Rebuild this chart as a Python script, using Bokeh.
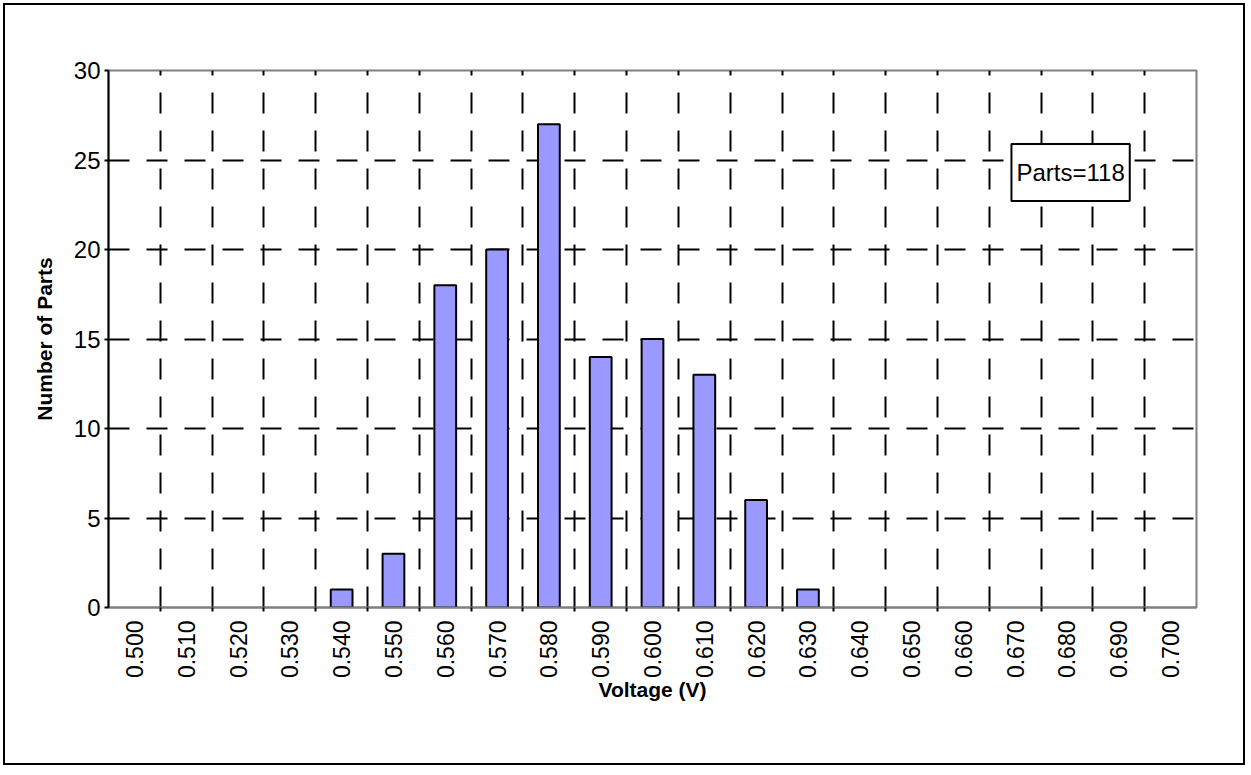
import math
from bokeh.plotting import figure
from bokeh.models import FixedTicker, Range1d, Label, ColumnDataSource, LinearAxis
from bokeh.embed import file_html
from bokeh.resources import INLINE

voltages = ["0.500", "0.510", "0.520", "0.530", "0.540", "0.550", "0.560", "0.570",
            "0.580", "0.590", "0.600", "0.610", "0.620", "0.630", "0.640", "0.650",
            "0.660", "0.670", "0.680", "0.690", "0.700"]
counts = [0, 0, 0, 0, 1, 3, 18, 20, 27, 14, 15, 13, 6, 1, 0, 0, 0, 0, 0, 0, 0]
y_ticks = [0, 5, 10, 15, 20, 25, 30]
legend_text = "Parts=118"

n = len(voltages)
centers = [i + 0.5 for i in range(n)]
boundaries = list(range(1, n))
nz = [i for i, c in enumerate(counts) if c > 0]
src = ColumnDataSource(dict(x=[centers[i] for i in nz], top=[counts[i] for i in nz]))

FONT = "Liberation Sans"

p = figure(width=1242, height=762, output_backend="svg", toolbar_location=None,
           x_range=Range1d(0, n), y_range=Range1d(0, 30), x_axis_location=None,
           min_border_left=103, min_border_right=51, min_border_top=65, min_border_bottom=160)
p.styles = {"border": "2px solid black", "margin-left": "3px", "margin-top": "3px"}
p.background_fill_color = "white"
p.border_fill_color = "white"
p.outline_line_color = "#808080"
p.outline_line_width = 2

p.vbar(x="x", top="top", width=0.42, source=src, fill_color="#9999FF",
       line_color="black", line_width=2)

# x axis: tick marks at bin boundaries (nearest the frame)
xt = LinearAxis(ticker=FixedTicker(ticks=boundaries),
                major_label_overrides={b: "" for b in boundaries})
xt.major_tick_in = 0
xt.major_tick_out = 4
xt.major_tick_line_width = 2
xt.major_tick_line_color = "black"
xt.minor_tick_line_color = None
xt.axis_line_color = "#808080"
xt.axis_line_width = 2
xt.major_label_standoff = 0
xt.major_label_text_font_size = "1px"
p.add_layout(xt, "below")

# x axis: labels at bin centres
xa = LinearAxis(ticker=FixedTicker(ticks=centers),
                major_label_overrides={c: v for c, v in zip(centers, voltages)})
xa.major_label_orientation = math.pi / 2
xa.major_tick_line_color = None
xa.minor_tick_line_color = None
xa.axis_line_color = None
xa.major_label_text_font = FONT
xa.major_label_text_font_size = "23px"
xa.major_label_text_color = "black"
xa.major_label_standoff = 3
xa.axis_label = "Voltage (V)"
xa.axis_label_text_font = FONT
xa.axis_label_text_font_style = "bold"
xa.axis_label_text_font_size = "21px"
xa.axis_label_text_color = "black"
xa.axis_label_standoff = -3
p.add_layout(xa, "below")

# y axis
ya = p.yaxis[0]
ya.ticker = FixedTicker(ticks=y_ticks)
ya.major_tick_in = 0
ya.major_tick_out = 4
ya.major_tick_line_width = 2
ya.major_tick_line_color = "black"
ya.minor_tick_line_color = None
ya.axis_line_color = "black"
ya.axis_line_width = 2
ya.major_label_text_font = FONT
ya.major_label_text_font_size = "24px"
ya.major_label_text_color = "black"
ya.major_label_standoff = 4
ya.axis_label = "Number of Parts"
ya.axis_label_text_font = FONT
ya.axis_label_text_font_style = "bold"
ya.axis_label_text_font_size = "21px"
ya.axis_label_text_color = "black"
ya.axis_label_standoff = 15

# grids
p.xgrid.ticker = FixedTicker(ticks=boundaries)
p.ygrid.ticker = FixedTicker(ticks=y_ticks[1:-1])
for g in (p.xgrid, p.ygrid):
    g.grid_line_color = "black"
    g.grid_line_width = 2
    g.grid_line_dash = "21 17"
    g.grid_line_alpha = 1.0

lab = Label(x=18.57, y=24.3, text=legend_text, text_font=FONT, text_font_size="24px",
            text_align="center", text_baseline="middle", text_color="black",
            background_fill_color="white", border_line_color="black", border_line_width=2,
            padding=dict(left=5, right=5, top=15, bottom=15))
p.add_layout(lab)

open("out.html", "w").write(file_html(p, INLINE))
